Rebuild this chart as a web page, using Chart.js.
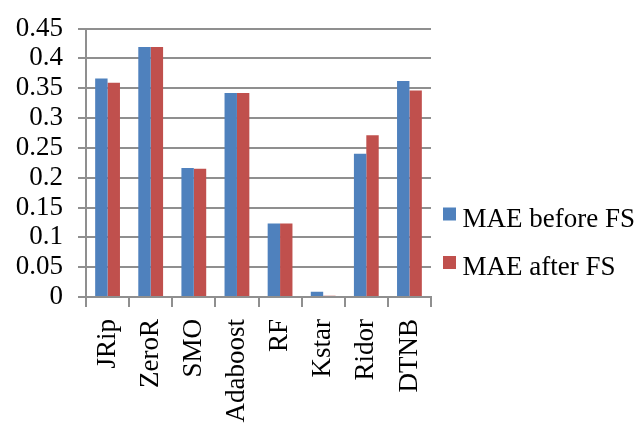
<!DOCTYPE html>
<html>
<head>
<meta charset="utf-8">
<script src="https://cdn.jsdelivr.net/npm/chart.js@4"></script>
<style>
  html, body { margin: 0; padding: 0; background: #ffffff; }
  canvas { display: block; }
</style>
</head>
<body>
<canvas id="c" width="636" height="425"></canvas>
<script>
const categories = ['JRip', 'ZeroR', 'SMO', 'Adaboost', 'RF', 'Kstar', 'Ridor', 'DTNB'];
const maeBefore = [0.366, 0.419, 0.216, 0.342, 0.123, 0.009, 0.240, 0.362];
const maeAfter  = [0.359, 0.419, 0.215, 0.342, 0.123, 0.002, 0.271, 0.346];
const seriesNames = ['MAE before FS', 'MAE after FS'];
const yTickLabels = ['0', '0.05', '0.1', '0.15', '0.2', '0.25', '0.3', '0.35', '0.4', '0.45'];

const FONT = "'Liberation Serif', 'Times New Roman', serif";
const GRID = '#8f8f8f';

const sideLegend = {
  id: 'sideLegend',
  afterDraw(chart) {
    const ctx = chart.ctx;
    const x0 = chart.chartArea.right + 12;
    const ys = [214, 262.5];
    ctx.save();
    ctx.font = '27px ' + FONT;
    ctx.textAlign = 'left';
    ctx.textBaseline = 'alphabetic';
    chart.data.datasets.forEach((ds, i) => {
      const y = ys[i];
      ctx.fillStyle = ds.backgroundColor;
      ctx.fillRect(x0, y - 6.5, 13, 13);
      ctx.fillStyle = '#000000';
      ctx.fillText(ds.label, x0 + 19.5, y + 12.5);
    });
    ctx.restore();
  }
};

new Chart(document.getElementById('c'), {
  type: 'bar',
  data: {
    labels: categories,
    datasets: [
      { label: seriesNames[0], data: maeBefore, backgroundColor: '#4F81BD', borderWidth: 0 },
      { label: seriesNames[1], data: maeAfter, backgroundColor: '#C0504D', borderWidth: 0 }
    ]
  },
  options: {
    responsive: false,
    animation: false,
    devicePixelRatio: 1,
    layout: { padding: { top: 22, right: 205, left: 0, bottom: 0 } },
    datasets: { bar: { categoryPercentage: 0.575, barPercentage: 1.0 } },
    plugins: {
      legend: { display: false },
      tooltip: { enabled: false },
      title: { display: false }
    },
    scales: {
      x: {
        offset: true,
        grid: { display: true, drawOnChartArea: false, drawTicks: true, tickLength: 10, color: GRID, lineWidth: 2, offset: true },
        border: { display: true, color: GRID, width: 2 },
        ticks: {
          autoSkip: false, minRotation: 90, maxRotation: 90, padding: 12,
          color: '#000000', font: { family: FONT, size: 27 }
        },
        afterFit(scale) { scale.height = 128; }
      },
      y: {
        min: 0, max: 0.45,
        grid: { color: GRID, lineWidth: 2, tickLength: 8, drawTicks: true },
        border: { display: true, color: GRID, width: 2 },
        ticks: {
          stepSize: 0.05, autoSkip: false, maxTicksLimit: 20, padding: 15, color: '#000000',
          font: { family: FONT, size: 27, lineHeight: 1 },
          callback: (v, i) => yTickLabels[i] !== undefined ? yTickLabels[i] : String(v)
        },
        afterFit(scale) { scale.width = 86; }
      }
    }
  },
  plugins: [sideLegend]
});
</script>
</body>
</html>
